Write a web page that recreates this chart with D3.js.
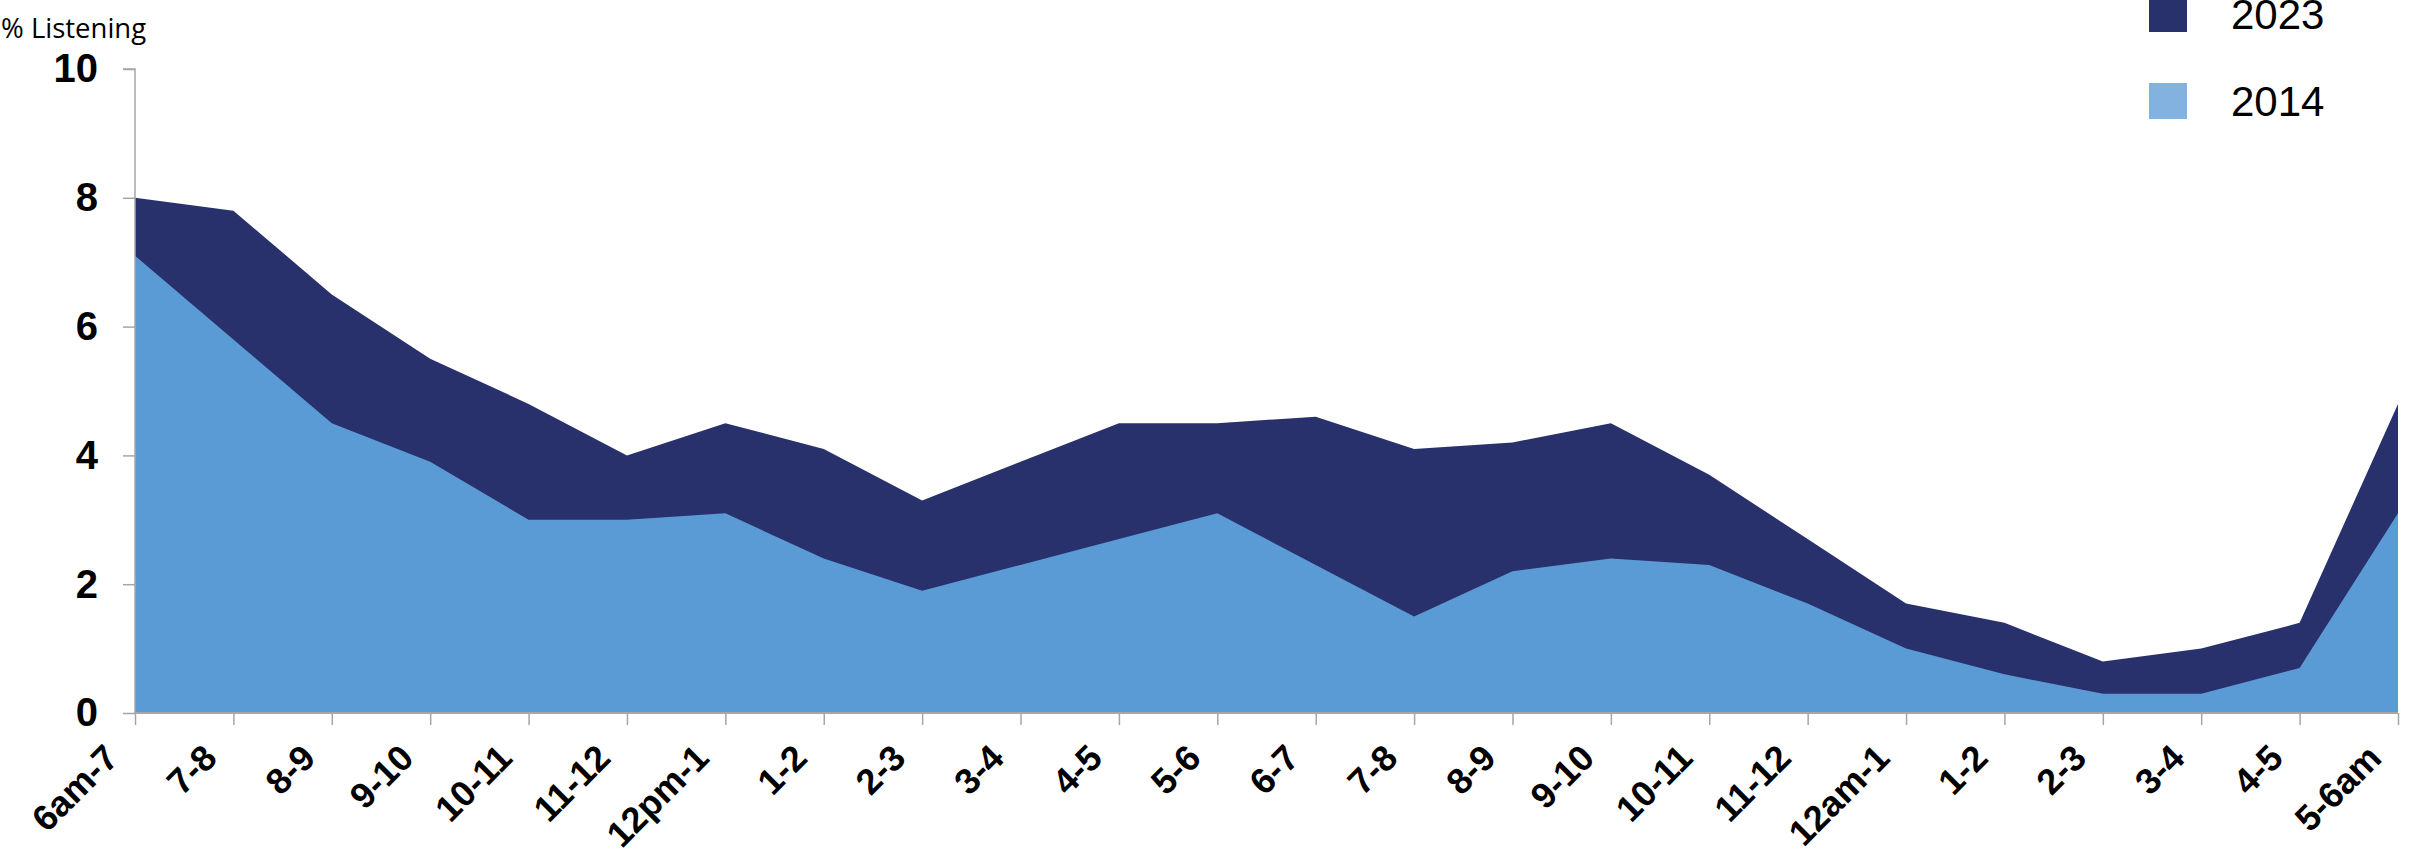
<!DOCTYPE html>
<html>
<head>
<meta charset="utf-8">
<script src="https://cdn.jsdelivr.net/npm/d3@7"></script>
<style>
  html, body { margin: 0; padding: 0; background: #ffffff; }
  svg { display: block; }
</style>
</head>
<body>
<svg id="chart" width="2410" height="866"></svg>
<script>
// Hour-of-day bands (repeated labels for the evening hours)
const hours = ["6am-7", "7-8", "8-9", "9-10", "10-11", "11-12", "12pm-1", "1-2", "2-3", "3-4",
  "4-5", "5-6", "6-7", "7-8", "8-9", "9-10", "10-11", "11-12", "12am-1", "1-2", "2-3", "3-4", "4-5", "5-6am"];

// Share of people listening in each hour (%)
const listening2023 = [8.0, 7.8, 6.5, 5.5, 4.8, 4.0, 4.5, 4.1, 3.3, 3.9, 4.5, 4.5,
  4.6, 4.1, 4.2, 4.5, 3.7, 2.7, 1.7, 1.4, 0.8, 1.0, 1.4, 4.8];
const listening2014 = [7.1, 5.8, 4.5, 3.9, 3.0, 3.0, 3.1, 2.4, 1.9, 2.3, 2.7, 3.1,
  2.3, 1.5, 2.2, 2.4, 2.3, 1.7, 1.0, 0.6, 0.3, 0.3, 0.7, 3.1];

const yTicks = [0, 2, 4, 6, 8, 10];
const seriesNames = ["2023", "2014"];

const svg = d3.select("#chart");
const plotLeft = 135, plotRight = 2398, plotTop = 69, plotBottom = 713;

const x = d3.scaleLinear().domain([0, hours.length - 1]).range([plotLeft, plotRight]);
const y = d3.scaleLinear().domain([0, 10]).range([plotBottom, plotTop]);

const areaFor = vals => d3.area()
  .x((d, i) => x(i))
  .y0(y(0))
  .y1(d => y(d))(vals);

// 2023 behind, 2014 in front
svg.append("path").attr("d", areaFor(listening2023)).attr("fill", "#28316c");
svg.append("path").attr("d", areaFor(listening2014)).attr("fill", "#5b9bd5");

// Y axis
const yAxis = svg.append("g")
  .attr("transform", `translate(${plotLeft},0)`)
  .call(d3.axisLeft(y).tickValues(yTicks).tickSize(12).tickPadding(25).tickFormat(d3.format("d")));
yAxis.select(".domain").attr("stroke", "#a6a6a6").attr("stroke-width", 1.5)
  .attr("d", `M-12,${y(10)}H0V${y(0)}`);
yAxis.selectAll(".tick line").attr("stroke", "#a6a6a6").attr("stroke-width", 1.5);
yAxis.selectAll(".tick text")
  .attr("fill", "#000")
  .style("font-family", "'Liberation Sans', Arial, sans-serif")
  .style("font-weight", "bold")
  .style("font-size", "40px");

// X axis
const xAxis = svg.append("g")
  .attr("transform", `translate(0,${plotBottom})`)
  .call(d3.axisBottom(x).tickValues(d3.range(hours.length)).tickSize(12).tickFormat(i => hours[i]));
xAxis.select(".domain").attr("stroke", "#a6a6a6").attr("stroke-width", 2)
  .attr("d", `M${plotLeft},0H${plotRight}`);
xAxis.selectAll(".tick line").attr("stroke", "#a6a6a6").attr("stroke-width", 1.5);
xAxis.selectAll(".tick text")
  .attr("fill", "#000")
  .attr("text-anchor", "end")
  .attr("dy", null)
  .attr("y", 0)
  .attr("transform", "translate(-15,47) rotate(-45)")
  .style("font-family", "'Liberation Sans', Arial, sans-serif")
  .style("font-weight", "bold")
  .style("font-size", "36px");

// Axis title
svg.append("text")
  .attr("x", 1).attr("y", 38)
  .style("font-family", "'Open Sans', sans-serif")
  .style("font-size", "27.5px")
  .attr("fill", "#000")
  .text("% Listening");

// Legend
const legend = svg.append("g");
const legendColors = ["#28316c", "#84b2e0"];
seriesNames.forEach((name, i) => {
  const cy = 14 + i * 87;
  legend.append("rect")
    .attr("x", 2149).attr("y", cy - 18).attr("width", 38).attr("height", 36)
    .attr("fill", legendColors[i]);
  legend.append("text")
    .attr("x", 2231).attr("y", cy + 15)
    .style("font-family", "'Liberation Sans', Arial, sans-serif")
    .style("font-size", "42px")
    .attr("fill", "#000")
    .text(name);
});
</script>
</body>
</html>
